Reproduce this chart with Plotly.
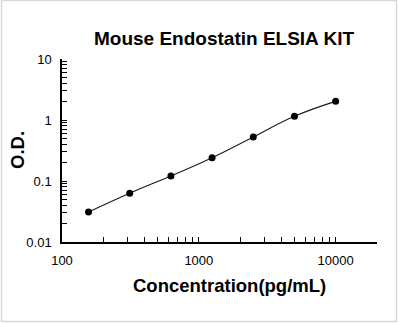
import plotly.graph_objects as go
import math

conc = [156.25, 312.5, 625, 1250, 2500, 5000, 10000]
od = [0.031, 0.063, 0.121, 0.241, 0.526, 1.15, 2.02]

title_text = "Mouse Endostatin ELSIA KIT"
x_title = "Concentration(pg/mL)"
y_title = "O.D."
x_tickvals = [100, 1000, 10000]
x_ticktext = ["100", "1000", "10000"]
y_tickvals = [0.01, 0.1, 1, 10]
y_ticktext = ["0.01", "0.1", "1", "10"]

W, H = 398, 323
L, R, T, B = 62, 21, 59, 81
pw, ph = W - L - R, H - T - B

def px(x):
    return (x - L) / pw

def py(y):
    return (H - B - y) / ph

fig = go.Figure()
fig.add_trace(go.Scatter(
    x=conc, y=od, mode="lines+markers",
    line=dict(color="#1a1a1a", width=1.1, shape="spline", smoothing=1.3),
    marker=dict(color="#000000", size=7),
    showlegend=False, hoverinfo="skip",
))

axis_common = dict(
    type="log", showgrid=False, zeroline=False, showline=True,
    linecolor="#000000", linewidth=1.5, ticks="inside", ticklen=5,
    tickcolor="#000000", tickwidth=1,
    tickfont=dict(family="Arial, Liberation Sans, sans-serif", size=13, color="#000000"),
    minor=dict(dtick="D1", ticks="inside", ticklen=5, tickcolor="#000000", tickwidth=1, showgrid=False),
)

fig.update_layout(
    width=W, height=H,
    margin=dict(l=L, r=R, t=T, b=B),
    paper_bgcolor="white", plot_bgcolor="white",
    title=dict(text=title_text, x=px(224), xref="paper", xanchor="center",
               y=1 - 38 / H, yref="container", yanchor="middle",
               font=dict(family="Arial, Liberation Sans, sans-serif", size=19, color="#000000", weight="bold")),
    xaxis=dict(**axis_common, range=[2, math.log10(20000) + 0.001],
               tickmode="array", tickvals=x_tickvals, ticktext=x_ticktext,
               ticklabelstandoff=6),
    yaxis=dict(**axis_common, range=[-2, 1],
               tickmode="array", tickvals=y_tickvals, ticktext=y_ticktext,
               ticklabelstandoff=6),
    annotations=[
        dict(text=x_title, x=px(229), y=py(285), xref="paper", yref="paper",
             xanchor="center", yanchor="middle", showarrow=False,
             font=dict(family="Arial, Liberation Sans, sans-serif", size=18.5, color="#000000", weight="bold")),
        dict(text=y_title, x=px(17), y=py(150), xref="paper", yref="paper",
             xanchor="center", yanchor="middle", showarrow=False, textangle=-90,
             font=dict(family="Arial, Liberation Sans, sans-serif", size=18.5, color="#000000", weight="bold")),
    ],
    shapes=[
        dict(type="rect", xref="paper", yref="paper",
             x0=px(1.5), x1=px(396.5), y0=py(321.5), y1=py(0.5),
             line=dict(color="#d9d9d9", width=1.5), fillcolor="rgba(0,0,0,0)", layer="below"),
    ],
)

fig.write_html("out.html")
